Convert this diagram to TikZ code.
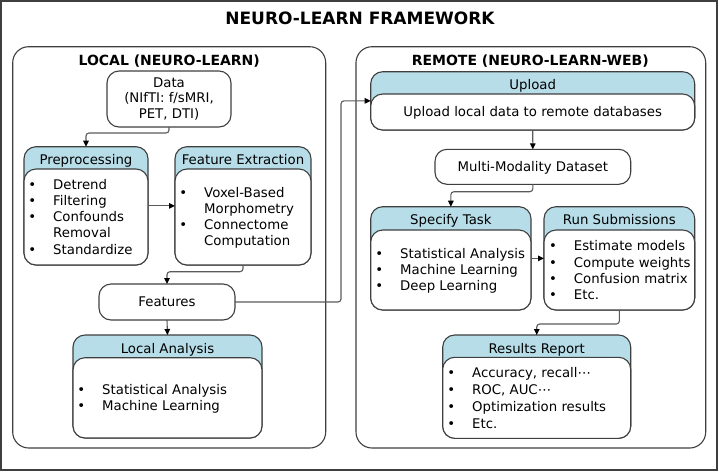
\documentclass[tikz,border=0pt]{standalone}
\usepackage{fontspec}
\setmainfont{DejaVu Sans}
\usepackage{tikz}
\usetikzlibrary{arrows.meta,positioning,calc}

\definecolor{hdrblue}{HTML}{B7DDE8}
\definecolor{edgegray}{HTML}{3F3F3F}
\definecolor{flowgray}{HTML}{5A5A5A}

\tikzset{
  frame/.style={
    draw = edgegray,
    line width = 1.2pt,
    inner sep = 0,
    outer sep = 0
  },
  group/.style={
    draw = edgegray,
    line width = 1.1pt,
    rounded corners = 16pt,
    inner sep = 0,
    outer sep = 0
  },
  hdrbox/.style={
    draw = edgegray,
    fill = hdrblue,
    line width = 1.1pt,
    rounded corners = 12pt,
    inner sep = 0,
    outer sep = 0
  },
  bodybox/.style={
    draw = edgegray,
    fill = white,
    line width = 1.1pt,
    rounded corners = 12pt,
    inner sep = 0,
    outer sep = 0
  },
  roundbox/.style={
    draw = edgegray,
    fill = white,
    line width = 1.1pt,
    rounded corners = 12pt,
    inner sep = 0,
    outer sep = 0,
    align = center
  },
  hdrtext/.style={
    anchor = base,
    inner sep = 0
  },
  grouptitle/.style={
    anchor = base,
    inner sep = 0,
    font = \fontsize{14}{16}\selectfont\bfseries
  },
  itemtext/.style={
    anchor = base west,
    inner sep = 0
  },
  flow/.style={
    draw = flowgray,
    line width = 1.1pt,
    rounded corners = 3pt,
    -{Triangle[length=6pt,width=5.5pt,color=black]}
  }
}

\newlength{\bulgap}
\setlength{\bulgap}{24.9pt}
\newcommand{\bul}{\makebox[\bulgap][l]{\textbullet}}
\newcommand{\cont}{\hspace*{\bulgap}}

% panel with a blue header band: name, x, y, width, height, band, title
\newcommand{\panel}[7]{%
  \node[hdrbox, minimum width=#4pt, minimum height=#5pt, anchor=north west] (#1) at (#2,#3) {};
  \node[bodybox, minimum width=#4pt, minimum height={(#5-#6)*1pt}, anchor=south west] (#1-body) at (#1.south west) {};
  \node[hdrtext] (#1-title) at ([yshift=-18pt]#1.north) {#7};
}
% bullet list: name, x, first baseline, line pitch, rows
\newcommand{\itemlist}[5]{%
  \node[itemtext] (#1) at (#2,#3)
    {\fontsize{13.3}{#4}\selectfont\begin{tabular}[t]{@{}l@{}}#5\end{tabular}};
}

\begin{document}
\begin{tikzpicture}[x=1pt, y=-1pt, font=\fontsize{13.3}{16}\selectfont]
    \useasboundingbox (0,0) rectangle (719,472);
    \node[frame, minimum width=716pt, minimum height=469pt, anchor=north west] (frame) at (1,1) {};
    \node[anchor=base, inner sep=0, font=\fontsize{17}{20}\selectfont\bfseries] (title) at (360,24) {NEURO-LEARN FRAMEWORK};

    % local side
    \node[group, minimum width=313pt, minimum height=401.3pt, anchor=north west] (local) at (12.7,46.7) {};
    \node[grouptitle] (local-title) at (169.2,65) {LOCAL (NEURO-LEARN)};
    \node[roundbox, minimum width=124pt, minimum height=56pt, anchor=north west,
          font=\fontsize{13.3}{15.7}\selectfont] (data) at (107,71) {Data\\(NIfTI: f/sMRI,\\PET, DTI)};
    \panel{prep}{24}{146.7}{124}{118.3}{22.3}{Preprocessing}
    \panel{fe}{175}{146.7}{136}{118.3}{22.3}{Feature Extraction}
    \itemlist{prep-items}{28.1}{189}{16.25}{\bul Detrend\\ \bul Filtering\\ \bul Confounds\\ \cont Removal\\ \bul Standardize}
    \itemlist{fe-items}{179.1}{197.3}{16.2}{\bul Voxel-Based\\ \cont Morphometry\\ \bul Connectome\\ \cont Computation}
    \node[roundbox, minimum width=136pt, minimum height=36pt, anchor=north west] (feat) at (99,284) {Features};
    \panel{locan}{73}{335}{189}{103}{22.7}{Local Analysis}
    \itemlist{locan-items}{77.1}{394}{16}{\bul Statistical Analysis\\ \bul Machine Learning}

    % remote side
    \node[group, minimum width=349.7pt, minimum height=401.3pt, anchor=north west] (remote) at (356,46.7) {};
    \node[grouptitle] (remote-title) at (530.3,65) {REMOTE (NEURO-LEARN-WEB)};
    \panel{upload}{370.7}{71.7}{324}{58.3}{22.3}{Upload}
    \node[hdrtext] (upload-text) at ([yshift=-22pt]upload-body.north) {Upload local data to remote databases};
    \node[roundbox, minimum width=195.7pt, minimum height=35pt, anchor=north west,
          text height=9.7pt, text depth=0pt] (mmd) at (435,149.3) {Multi-Modality Dataset};
    \panel{spec}{370.7}{206.7}{160.3}{103.3}{23.3}{Specify Task}
    \panel{run}{544}{206.7}{150.7}{103.3}{23.3}{Run Submissions}
    \itemlist{spec-items}{375.1}{258.3}{16.2}{\bul Statistical Analysis\\ \bul Machine Learning\\ \bul Deep Learning}
    \itemlist{run-items}{548.8}{250.7}{16.4}{\bul Estimate models\\ \bul Compute weights\\ \bul Confusion matrix\\ \bul Etc.}
    \panel{res}{442.7}{335}{188}{103.3}{22.3}{Results Report}
    \itemlist{res-items}{447.1}{377.7}{16.9}{\bul Accuracy, recall⋯\\ \bul ROC, AUC⋯\\ \bul Optimization results\\ \bul Etc.}

    % connectors
    \draw[flow] (data.south) -- ++(0,6) -| (prep.north);
    \draw[flow] (prep.east) -- (fe.west);
    \draw[flow] (fe.south) -- ++(0,6.7) -| (feat.north);
    \draw[flow] (feat.south) -- (locan.north);
    \draw[flow] (feat.east) -- ++(106,0) |- (upload.west);
    \draw[flow] (upload.south) -- (mmd.north);
    \draw[flow] (mmd.south) -- ++(0,7.4) -| (spec.north);
    \draw[flow] (spec.east) -- (run.west);
    \draw[flow] (run.south) -- ++(0,14) -| (res.north);
\end{tikzpicture}
\end{document}
